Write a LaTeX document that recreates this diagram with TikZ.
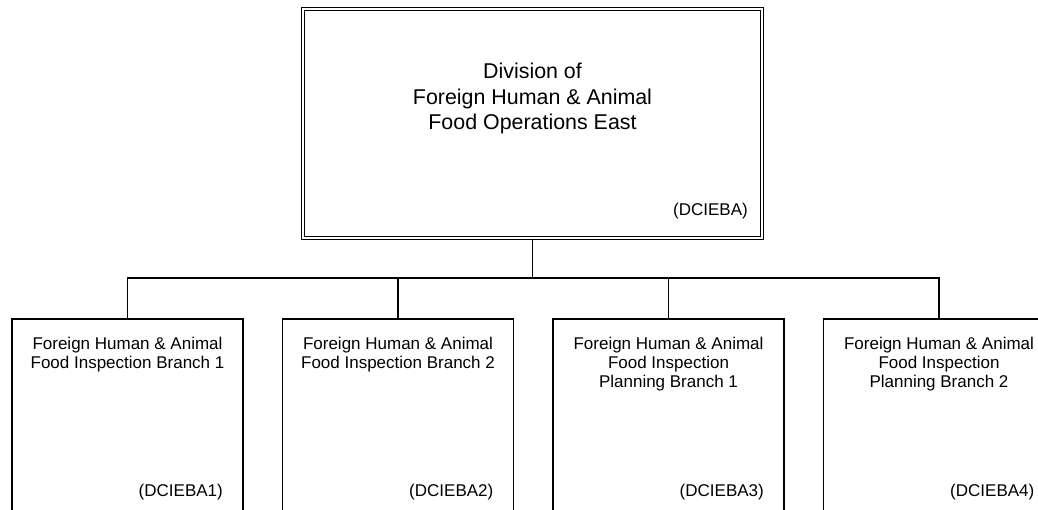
\documentclass[tikz,border=0pt]{standalone}
\usepackage{fontspec}
\setmainfont{Liberation Sans}
\begin{document}
\begin{tikzpicture}[x=1pt,y=-1pt,
  topbox/.style={draw=black, double=white, double distance=1.6pt, line width=1.3pt,
    minimum width=459.5pt, minimum height=229.5pt, inner sep=0pt},
  unitbox/.style={draw=black, line width=1.7pt, minimum width=231pt,
    minimum height=193pt, inner sep=0pt, anchor=north},
  toptext/.style={font=\fontsize{21.4}{25.5}\selectfont, align=center, inner sep=0pt, anchor=north},
  unittext/.style={font=\fontsize{17}{19}\selectfont, align=center, inner sep=0pt, anchor=north},
  code/.style={font=\fontsize{17}{19}\selectfont, inner sep=0pt, anchor=east},
  link/.style={draw=black, line width=1.7pt}
]
\useasboundingbox (0,0) rectangle (1038,509);
\clip (0,0) rectangle (1038,509);
\fill[white] (0,0) rectangle (1038,509);

\node[topbox] (top) at (532.5,123.5) {};
\node[toptext] (toptxt) at (532.5,63) {Division of\\Foreign Human \& Animal\\Food Operations East};
\node[code] (topcode) at (748,211.5) {(DCIEBA)};

\node[unitbox] (b1) at (127.5,318) {};
\node[unitbox] (b2) at (398,318) {};
\node[unitbox] (b3) at (668.5,318) {};
\node[unitbox] (b4) at (939,318) {};

\node[unittext] (t1) at (127.5,336.6) {Foreign Human \& Animal\\Food Inspection Branch 1};
\node[unittext] (t2) at (398,336.6) {Foreign Human \& Animal\\Food Inspection Branch 2};
\node[unittext] (t3) at (668.5,336.6) {Foreign Human \& Animal\\Food Inspection\\Planning Branch 1};
\node[unittext] (t4) at (939,336.6) {Foreign Human \& Animal\\Food Inspection\\Planning Branch 2};

\node[code] (c1) at (223,492) {(DCIEBA1)};
\node[code] (c2) at (493.5,492) {(DCIEBA2)};
\node[code] (c3) at (764,492) {(DCIEBA3)};
\node[code] (c4) at (1034.5,492) {(DCIEBA4)};

\coordinate (bus) at (532.5,278);
\draw[link] (top.south) -- (bus);
\draw[link] (b1.north) -- (b1.north |- bus) -- (b4.north |- bus) -- (b4.north);
\draw[link] (b2.north) -- (b2.north |- bus);
\draw[link] (b3.north) -- (b3.north |- bus);
\end{tikzpicture}
\end{document}
